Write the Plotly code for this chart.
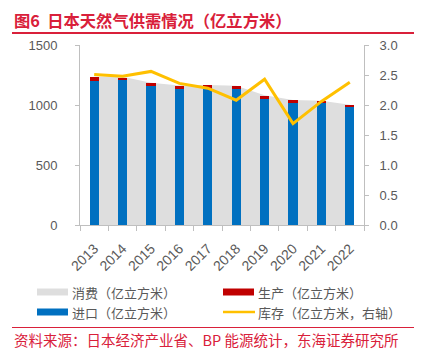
import plotly.graph_objects as go

years = ["2013", "2014", "2015", "2016", "2017", "2018", "2019", "2020", "2021", "2022"]
consumption = [1236, 1236, 1185, 1163, 1167, 1160, 1082, 1042, 1036, 1003]
imports = [1203, 1214, 1158, 1133, 1136, 1131, 1053, 1017, 1014, 981]
production = [30, 14, 28, 28, 31, 25, 25, 22, 19, 19]
inventory = [2.51, 2.48, 2.56, 2.36, 2.28, 2.08, 2.43, 1.69, 2.06, 2.38]

left_ticks = [0, 500, 1000, 1500]
right_ticks = [0.0, 0.5, 1.0, 1.5, 2.0, 2.5, 3.0]

legend_names = ["消费（亿立方米）", "生产（亿立方米）", "进口（亿立方米）", "库存（亿立方米，右轴）"]
title_text = "图6  日本天然气供需情况（亿立方米）"
source_text = "资料来源：日本经济产业省、BP 能源统计，东海证券研究所"

C_GREY = "#dedede"
C_RED = "#c00000"
C_BLUE = "#0070c0"
C_YEL = "#ffc000"
C_TXT = "#595959"
C_TITLE = "#d9203a"
C_AX = "#bfbfbf"

W, H = 421, 351
L, R, T, B = 80, 57, 45, 126
PW, PH = W - L - R, H - T - B


def px(x):
    return (x - L) / PW


def py(y):
    return (H - B - y) / PH


fig = go.Figure()
fig.add_trace(go.Scatter(x=years, y=consumption, mode="lines", line=dict(width=0, color=C_GREY),
                         fill="tozeroy", fillcolor=C_GREY, name=legend_names[0], showlegend=False,
                         yaxis="y"))
fig.add_trace(go.Bar(x=years, y=imports, marker=dict(color=C_BLUE, line=dict(width=0)),
                     name=legend_names[2], width=0.32, showlegend=False, yaxis="y2"))
fig.add_trace(go.Bar(x=years, y=production, marker=dict(color=C_RED, line=dict(width=0)),
                     name=legend_names[1], width=0.32, showlegend=False, yaxis="y2"))
fig.add_trace(go.Scatter(x=years, y=inventory, mode="lines", line=dict(color=C_YEL, width=3),
                         name=legend_names[3], yaxis="y3", showlegend=False))

axis_font = dict(family="Liberation Sans, Arial, sans-serif", size=13, color=C_TXT)

fig.update_layout(
    width=W, height=H,
    margin=dict(l=L, r=R, t=T, b=B),
    paper_bgcolor="white", plot_bgcolor="white",
    barmode="stack",
    showlegend=False,
    xaxis=dict(type="category", tickson="boundaries", ticks="outside", ticklen=5,
               tickcolor=C_AX, showline=True, linecolor=C_AX, linewidth=1,
               showgrid=False, tickangle=-45, tickfont=dict(family="Liberation Sans, Arial, sans-serif",
                                                            size=14, color=C_TXT),
               zeroline=False, automargin=False, ticklabelstandoff=9),
    yaxis=dict(range=[0, 1500], tickvals=left_ticks, ticks="outside", ticklen=4,
               tickcolor=C_AX, showline=True, linecolor=C_AX, showgrid=False,
               zeroline=False, tickfont=axis_font, ticklabelstandoff=15, automargin=False),
    yaxis2=dict(range=[0, 1500], overlaying="y", side="left", visible=False, showgrid=False,
                zeroline=False),
    yaxis3=dict(range=[0, 3], tickvals=right_ticks, tickformat=".1f", overlaying="y", side="right",
                ticks="outside", ticklen=4, tickcolor=C_AX, showline=True, linecolor=C_AX,
                showgrid=False, zeroline=False, tickfont=axis_font, ticklabelstandoff=8,
                automargin=False),
)

cjk = "Noto Sans CJK SC"
shapes = []
annotations = []

annotations.append(dict(text="<b>" + title_text + "</b>", xref="paper", yref="paper", x=px(12), y=py(20),
                        xanchor="left", yanchor="middle", showarrow=False,
                        font=dict(family=cjk, size=16.3, color=C_TITLE)))
shapes.append(dict(type="line", xref="paper", yref="paper", x0=px(12), x1=px(414), y0=py(33), y1=py(33),
                   line=dict(color=C_TITLE, width=2)))

shapes.append(dict(type="line", xref="paper", yref="paper", x0=px(12), x1=px(414), y0=py(327.5), y1=py(327.5),
                   line=dict(color=C_TITLE, width=1)))
annotations.append(dict(text=source_text, xref="paper", yref="paper", x=px(12), y=py(339),
                        xanchor="left", yanchor="middle", showarrow=False,
                        font=dict(family=cjk, size=14.5, color=C_TITLE)))

leg = [
    (37, 292, C_GREY, "rect", legend_names[0]),
    (223, 292, C_RED, "rect", legend_names[1]),
    (37, 312, C_BLUE, "rect", legend_names[2]),
    (223, 312, C_YEL, "line", legend_names[3]),
]
for x0, yc, col, kind, name in leg:
    if kind == "rect":
        shapes.append(dict(type="rect", xref="paper", yref="paper", x0=px(x0), x1=px(x0 + 31),
                           y0=py(yc - 3.5), y1=py(yc + 3.5), fillcolor=col, line=dict(width=0)))
    else:
        shapes.append(dict(type="line", xref="paper", yref="paper", x0=px(x0), x1=px(x0 + 32),
                           y0=py(yc), y1=py(yc), line=dict(color=col, width=2.5)))
    annotations.append(dict(text=name, xref="paper", yref="paper", x=px(x0 + 33), y=py(yc),
                            xanchor="left", yanchor="middle", showarrow=False,
                            font=dict(family=cjk, size=13, color=C_TXT)))

fig.update_layout(shapes=shapes, annotations=annotations)
fig.write_html("out.html")
